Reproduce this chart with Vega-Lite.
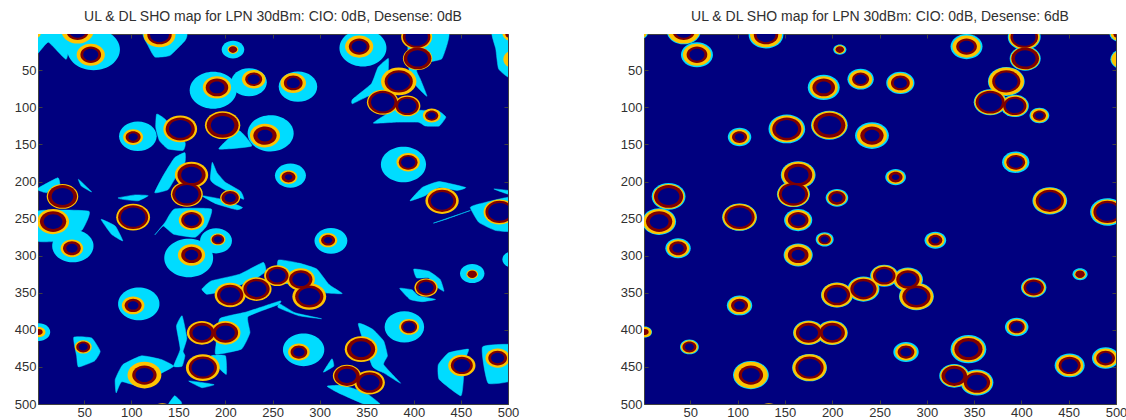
{"$schema":"https://vega.github.io/schema/vega-lite/v6.json","padding":{"left":13,"top":9,"right":0,"bottom":0},"background":"#ffffff","bounds":"flush","spacing":136,
"config":{"view":{"fill":"#00007f","stroke":"#404040"},"axis":{"grid":false,"domain":false,"labelFont":"Liberation Sans","labelFontSize":13,"labelColor":"#303030","tickColor":"#404040","tickSize":-4,"title":null,"labelPadding":6,"values":[50,100,150,200,250,300,350,400,450,500],"zindex":1,"labelFlush":false,"labelOverlap":false},"title":{"font":"Liberation Sans","fontSize":14,"fontWeight":"normal","color":"#303030","offset":10}},
"datasets":{
"cells":[
{"x":-3,"y":0,"yellow":7,"red":0,"navy":0,"c6":8},
{"x":43,"y":-3,"yellow":17,"red":12,"navy":9,"c6":18},
{"x":57,"y":29,"yellow":15,"red":11,"navy":8,"c6":17},
{"x":130,"y":2,"yellow":17,"red":13,"navy":10,"c6":18.5},
{"x":208,"y":22,"yellow":5.7,"red":4.5,"navy":0,"c6":7},
{"x":191,"y":73,"yellow":15,"red":12,"navy":8,"c6":17},
{"x":230,"y":62,"yellow":12.5,"red":9,"navy":6.5,"c6":14},
{"x":272,"y":67,"yellow":13.6,"red":10,"navy":7,"c6":15},
{"x":102,"y":140,"yellow":10.6,"red":8,"navy":5,"c6":12.5},
{"x":152,"y":129,"yellow":18,"red":15.5,"navy":12,"c6":19.5},
{"x":197,"y":124,"yellow":18.8,"red":17,"navy":12.5,"c6":19.5},
{"x":242,"y":138,"yellow":16,"red":12.4,"navy":8,"c6":18},
{"x":267,"y":194,"yellow":9.4,"red":7.4,"navy":4,"c6":11},
{"x":394,"y":174,"yellow":12.4,"red":10,"navy":7.5,"c6":14.5},
{"x":342,"y":18,"yellow":15,"red":11,"navy":8,"c6":17},
{"x":403,"y":5,"yellow":16.5,"red":14.7,"navy":12,"c6":17.5},
{"x":404,"y":34,"yellow":15.6,"red":14.7,"navy":11,"c6":16.5},
{"x":384,"y":65,"yellow":18.8,"red":15,"navy":12,"c6":19.5},
{"x":367,"y":93,"yellow":16.8,"red":15.4,"navy":12.4,"c6":17.5},
{"x":393,"y":98,"yellow":14,"red":12.4,"navy":9.6,"c6":15},
{"x":419,"y":111,"yellow":9.4,"red":7,"navy":4.6,"c6":10.5},
{"x":508,"y":35,"yellow":13,"red":0,"navy":0,"c6":14},
{"x":505,"y":0,"yellow":11,"red":8,"navy":0,"c6":12},
{"x":430,"y":226,"yellow":17.7,"red":15,"navy":12,"c6":18.5},
{"x":491,"y":241,"yellow":17,"red":15,"navy":12,"c6":18.5},
{"x":309,"y":279,"yellow":9.7,"red":7.4,"navy":4.4,"c6":11.5},
{"x":462,"y":325,"yellow":6.2,"red":5,"navy":0,"c6":8},
{"x":413,"y":343,"yellow":12.4,"red":10.8,"navy":8,"c6":13.5},
{"x":395,"y":396,"yellow":10.6,"red":8.5,"navy":6.4,"c6":12.5},
{"x":344,"y":426,"yellow":17.4,"red":15,"navy":10.6,"c6":19},
{"x":329,"y":462,"yellow":15,"red":13.6,"navy":9.7,"c6":16},
{"x":353,"y":471,"yellow":16.3,"red":14,"navy":10.6,"c6":17.5},
{"x":451,"y":448,"yellow":14.5,"red":11.7,"navy":8.8,"c6":16},
{"x":489,"y":438,"yellow":13,"red":10,"navy":7,"c6":14.5},
{"x":278,"y":430,"yellow":11.5,"red":8.9,"navy":6,"c6":13.5},
{"x":205,"y":353,"yellow":16.5,"red":14,"navy":10.6,"c6":17},
{"x":233,"y":345,"yellow":16,"red":14,"navy":10.6,"c6":17},
{"x":255,"y":327,"yellow":14,"red":12,"navy":9,"c6":15},
{"x":280,"y":332,"yellow":15,"red":12.4,"navy":9,"c6":16},
{"x":289,"y":355,"yellow":18,"red":15,"navy":11.5,"c6":18.5},
{"x":102,"y":367,"yellow":12,"red":9,"navy":5.7,"c6":13.5},
{"x":49,"y":423,"yellow":9,"red":7.4,"navy":4.8,"c6":10},
{"x":2,"y":403,"yellow":7,"red":4,"navy":0,"c6":7.5},
{"x":114,"y":461,"yellow":18,"red":13,"navy":9.5,"c6":19},
{"x":176,"y":451,"yellow":18,"red":15,"navy":12,"c6":18.5},
{"x":175,"y":404,"yellow":16,"red":13.5,"navy":10,"c6":16.5},
{"x":200,"y":404,"yellow":16,"red":13.5,"navy":10,"c6":16.5},
{"x":27,"y":220,"yellow":16.8,"red":15.5,"navy":11.5,"c6":18},
{"x":17,"y":254,"yellow":17,"red":14,"navy":10,"c6":18},
{"x":37,"y":290,"yellow":12,"red":9.4,"navy":6,"c6":13.5},
{"x":102,"y":248,"yellow":18,"red":16,"navy":13,"c6":18.5},
{"x":164,"y":252,"yellow":13.6,"red":11,"navy":8,"c6":15},
{"x":164,"y":191,"yellow":17.7,"red":15,"navy":11,"c6":18.5},
{"x":159,"y":217,"yellow":17,"red":15.5,"navy":12.4,"c6":17.5},
{"x":205,"y":222,"yellow":10.6,"red":9.2,"navy":6,"c6":12},
{"x":164,"y":299,"yellow":14.5,"red":11,"navy":7,"c6":15.5},
{"x":192,"y":278,"yellow":8,"red":6.6,"navy":4.4,"c6":9.5},
{"x":133,"y":512,"yellow":13,"red":0,"navy":0,"c6":0}
],
"blobs":[
{"x":60,"y":22,"r":28},{"x":208,"y":22,"r":12},{"x":187,"y":77,"r":25},{"x":225,"y":66,"r":19},{"x":277,"y":72,"r":20.5},{"x":107,"y":139,"r":20},{"x":248,"y":135,"r":24.5},{"x":269,"y":192,"r":16.5},{"x":389,"y":177,"r":24},{"x":346,"y":20,"r":25},{"x":312,"y":280,"r":17.5},{"x":462,"y":324,"r":13},{"x":505,"y":305,"r":11},{"x":390,"y":396,"r":21},{"x":283,"y":427,"r":22},{"x":108,"y":365,"r":22},{"x":2,"y":403,"r":12},{"x":38,"y":287,"r":22},{"x":161,"y":303,"r":26},{"x":190,"y":280,"r":17}
],
"wedges":[
{"w":1,"i":0,"x":0,"y":28},{"w":1,"i":1,"x":12,"y":12},{"w":1,"i":2,"x":31,"y":35},{"w":1,"i":3,"x":35,"y":0},{"w":1,"i":4,"x":0,"y":0},
{"w":2,"i":0,"x":125,"y":32},{"w":2,"i":1,"x":141,"y":30},{"w":2,"i":2,"x":157,"y":10},{"w":2,"i":3,"x":158,"y":0},{"w":2,"i":4,"x":113,"y":0},{"w":2,"i":5,"x":118,"y":17},
{"w":3,"i":0,"x":127,"y":109},{"w":3,"i":1,"x":136,"y":116},{"w":3,"i":2,"x":157,"y":147},{"w":3,"i":3,"x":155,"y":158},{"w":3,"i":4,"x":139,"y":156},{"w":3,"i":5,"x":130,"y":145},{"w":3,"i":6,"x":126,"y":127},
{"w":4,"i":0,"x":193,"y":156},{"w":4,"i":1,"x":214,"y":131},{"w":4,"i":2,"x":228,"y":152},
{"w":5,"i":0,"x":373,"y":34},{"w":5,"i":1,"x":362,"y":46},{"w":5,"i":2,"x":355,"y":68},{"w":5,"i":3,"x":335,"y":89},{"w":5,"i":4,"x":335,"y":95},{"w":5,"i":5,"x":354,"y":84},{"w":5,"i":6,"x":380,"y":89},{"w":5,"i":7,"x":373,"y":57},
{"w":6,"i":0,"x":403,"y":50},{"w":6,"i":1,"x":416,"y":39},{"w":6,"i":2,"x":430,"y":34},{"w":6,"i":3,"x":437,"y":0},{"w":6,"i":4,"x":395,"y":0},{"w":6,"i":5,"x":395,"y":50},{"w":6,"i":6,"x":402,"y":70},{"w":6,"i":7,"x":414,"y":85},{"w":6,"i":8,"x":407,"y":62},
{"w":7,"i":0,"x":357,"y":121},{"w":7,"i":1,"x":380,"y":103},{"w":7,"i":2,"x":409,"y":104},{"w":7,"i":3,"x":425,"y":104},{"w":7,"i":4,"x":434,"y":113},{"w":7,"i":5,"x":427,"y":125},{"w":7,"i":6,"x":412,"y":125},{"w":7,"i":7,"x":405,"y":120},{"w":7,"i":8,"x":380,"y":120},
{"w":8,"i":0,"x":483,"y":0},{"w":8,"i":1,"x":487,"y":21},{"w":8,"i":2,"x":490,"y":48},{"w":8,"i":3,"x":502,"y":59},{"w":8,"i":4,"x":502,"y":0},
{"w":9,"i":0,"x":396,"y":226},{"w":9,"i":1,"x":409,"y":208},{"w":9,"i":2,"x":427,"y":200},{"w":9,"i":3,"x":455,"y":208},{"w":9,"i":4,"x":446,"y":212},{"w":9,"i":5,"x":427,"y":208},{"w":9,"i":6,"x":412,"y":219},
{"w":10,"i":0,"x":421,"y":256},{"w":10,"i":1,"x":460,"y":239},{"w":10,"i":2,"x":436,"y":250},
{"w":11,"i":0,"x":460,"y":235},{"w":11,"i":1,"x":469,"y":255},{"w":11,"i":2,"x":487,"y":266},{"w":11,"i":3,"x":510,"y":266},{"w":11,"i":4,"x":510,"y":220},{"w":11,"i":5,"x":470,"y":230},
{"w":12,"i":0,"x":485,"y":210},{"w":12,"i":1,"x":500,"y":212},{"w":12,"i":2,"x":500,"y":217},
{"w":13,"i":0,"x":400,"y":318},{"w":13,"i":1,"x":416,"y":321},{"w":13,"i":2,"x":428,"y":332},{"w":13,"i":3,"x":432,"y":348},{"w":13,"i":4,"x":423,"y":341},{"w":13,"i":5,"x":416,"y":330},{"w":13,"i":6,"x":403,"y":330},
{"w":14,"i":0,"x":385,"y":344},{"w":14,"i":1,"x":398,"y":346},{"w":14,"i":2,"x":405,"y":354},{"w":14,"i":3,"x":423,"y":359},{"w":14,"i":4,"x":409,"y":362},{"w":14,"i":5,"x":396,"y":359},
{"w":15,"i":0,"x":341,"y":392},{"w":15,"i":1,"x":356,"y":399},{"w":15,"i":2,"x":368,"y":415},{"w":15,"i":3,"x":372,"y":435},{"w":15,"i":4,"x":368,"y":447},{"w":15,"i":5,"x":386,"y":472},{"w":15,"i":6,"x":368,"y":458},{"w":15,"i":7,"x":356,"y":449},
{"w":16,"i":0,"x":304,"y":457},{"w":16,"i":1,"x":313,"y":439},{"w":16,"i":2,"x":315,"y":449},
{"w":17,"i":0,"x":308,"y":476},{"w":17,"i":1,"x":320,"y":485},{"w":17,"i":2,"x":349,"y":501},{"w":17,"i":3,"x":365,"y":501},{"w":17,"i":4,"x":349,"y":485},{"w":17,"i":5,"x":325,"y":475},
{"w":18,"i":0,"x":458,"y":426},{"w":18,"i":1,"x":437,"y":431},{"w":18,"i":2,"x":426,"y":447},{"w":18,"i":3,"x":427,"y":467},{"w":18,"i":4,"x":450,"y":489},{"w":18,"i":5,"x":453,"y":462},{"w":18,"i":6,"x":455,"y":438},
{"w":19,"i":0,"x":473,"y":423},{"w":19,"i":1,"x":510,"y":421},{"w":19,"i":2,"x":510,"y":466},{"w":19,"i":3,"x":479,"y":472},
{"w":20,"i":0,"x":258,"y":365},{"w":20,"i":1,"x":274,"y":377},{"w":20,"i":2,"x":302,"y":385},{"w":20,"i":3,"x":278,"y":381},{"w":20,"i":4,"x":256,"y":370},
{"w":21,"i":0,"x":175,"y":345},{"w":21,"i":1,"x":185,"y":334},{"w":21,"i":2,"x":215,"y":325},{"w":21,"i":3,"x":240,"y":309},{"w":21,"i":4,"x":243,"y":321},{"w":21,"i":5,"x":233,"y":330},{"w":21,"i":6,"x":215,"y":340},{"w":21,"i":7,"x":190,"y":350},{"w":21,"i":8,"x":180,"y":352},
{"w":22,"i":0,"x":256,"y":306},{"w":22,"i":1,"x":278,"y":310},{"w":22,"i":2,"x":297,"y":318},{"w":22,"i":3,"x":310,"y":339},{"w":22,"i":4,"x":324,"y":351},{"w":22,"i":5,"x":305,"y":350},{"w":22,"i":6,"x":280,"y":340},{"w":22,"i":7,"x":256,"y":335},
{"w":23,"i":0,"x":39,"y":410},{"w":23,"i":1,"x":58,"y":411},{"w":23,"i":2,"x":67,"y":429},{"w":23,"i":3,"x":61,"y":442},{"w":23,"i":4,"x":44,"y":450},{"w":23,"i":5,"x":42,"y":435},
{"w":24,"i":0,"x":84,"y":485},{"w":24,"i":1,"x":83,"y":467},{"w":24,"i":2,"x":91,"y":447},{"w":24,"i":3,"x":111,"y":435},{"w":24,"i":4,"x":132,"y":440},{"w":24,"i":5,"x":145,"y":449},{"w":24,"i":6,"x":130,"y":460},{"w":24,"i":7,"x":115,"y":478},{"w":24,"i":8,"x":90,"y":470},
{"w":25,"i":0,"x":194,"y":385},{"w":25,"i":1,"x":222,"y":376},{"w":25,"i":2,"x":258,"y":361},{"w":25,"i":3,"x":256,"y":366},{"w":25,"i":4,"x":224,"y":382},{"w":25,"i":5,"x":226,"y":404},{"w":25,"i":6,"x":217,"y":426},{"w":25,"i":7,"x":190,"y":433},{"w":25,"i":8,"x":190,"y":420},
{"w":26,"i":0,"x":185,"y":435},{"w":26,"i":1,"x":200,"y":435},{"w":26,"i":2,"x":201,"y":460},{"w":26,"i":3,"x":191,"y":449},
{"w":27,"i":0,"x":148,"y":395},{"w":27,"i":1,"x":154,"y":381},{"w":27,"i":2,"x":159,"y":411},{"w":27,"i":3,"x":155,"y":429},{"w":27,"i":4,"x":157,"y":435},{"w":27,"i":5,"x":154,"y":449},{"w":27,"i":6,"x":145,"y":449},{"w":27,"i":7,"x":152,"y":426},
{"w":28,"i":0,"x":161,"y":469},{"w":28,"i":1,"x":175,"y":471},{"w":28,"i":2,"x":188,"y":474},{"w":28,"i":3,"x":175,"y":478},
{"w":29,"i":0,"x":139,"y":502},{"w":29,"i":1,"x":146,"y":489},{"w":29,"i":2,"x":153,"y":497},{"w":29,"i":3,"x":153,"y":502},
{"w":30,"i":0,"x":0,"y":210},{"w":30,"i":1,"x":22,"y":195},{"w":30,"i":2,"x":24,"y":206},{"w":30,"i":3,"x":10,"y":215},
{"w":31,"i":0,"x":44,"y":197},{"w":31,"i":1,"x":58,"y":214},{"w":31,"i":2,"x":47,"y":206},
{"w":32,"i":0,"x":0,"y":240},{"w":32,"i":1,"x":55,"y":240},{"w":32,"i":2,"x":48,"y":265},{"w":32,"i":3,"x":35,"y":272},{"w":32,"i":4,"x":25,"y":280},{"w":32,"i":5,"x":0,"y":280},
{"w":33,"i":0,"x":68,"y":251},{"w":33,"i":1,"x":83,"y":260},{"w":33,"i":2,"x":91,"y":280},{"w":33,"i":3,"x":79,"y":271},
{"w":34,"i":0,"x":125,"y":272},{"w":34,"i":1,"x":136,"y":255},{"w":34,"i":2,"x":146,"y":237},{"w":34,"i":3,"x":185,"y":237},{"w":34,"i":4,"x":180,"y":260},{"w":34,"i":5,"x":168,"y":275},{"w":34,"i":6,"x":145,"y":271},{"w":34,"i":7,"x":134,"y":260},
{"w":35,"i":0,"x":86,"y":222},{"w":35,"i":1,"x":104,"y":218},{"w":35,"i":2,"x":118,"y":219},{"w":35,"i":3,"x":107,"y":226},{"w":35,"i":4,"x":91,"y":224},
{"w":36,"i":0,"x":125,"y":215},{"w":36,"i":1,"x":134,"y":192},{"w":36,"i":2,"x":146,"y":168},{"w":36,"i":3,"x":157,"y":161},{"w":36,"i":4,"x":157,"y":174},{"w":36,"i":5,"x":146,"y":197},{"w":36,"i":6,"x":139,"y":211},
{"w":37,"i":0,"x":186,"y":174},{"w":37,"i":1,"x":191,"y":188},{"w":37,"i":2,"x":200,"y":201},{"w":37,"i":3,"x":216,"y":213},{"w":37,"i":4,"x":219,"y":224},{"w":37,"i":5,"x":189,"y":204},{"w":37,"i":6,"x":184,"y":197},
{"w":38,"i":0,"x":175,"y":219},{"w":38,"i":1,"x":200,"y":225},{"w":38,"i":2,"x":218,"y":235},{"w":38,"i":3,"x":212,"y":238},{"w":38,"i":4,"x":190,"y":230}
]
},
"hconcat":[
{"width":470,"height":370,"title":"UL & DL SHO map for LPN 30dBm: CIO: 0dB, Desense: 0dB",
"encoding":{"x":{"field":"x","type":"quantitative","scale":{"domain":[1,500],"nice":false,"zero":false}},"y":{"field":"y","type":"quantitative","scale":{"domain":[1,500],"nice":false,"zero":false,"reverse":true}}},
"layer":[
{"data":{"name":"wedges"},"mark":{"type":"line","interpolate":"cardinal-closed","tension":0.6,"fill":"#00dcff","stroke":"#00dcff","strokeWidth":0.5,"clip":true},"encoding":{"detail":{"field":"w"},"order":{"field":"i","type":"quantitative"},"x":{"field":"x","type":"quantitative","axis":{"orient":"bottom"}},"y":{"field":"y","type":"quantitative","axis":{"orient":"left"}}}},
{"data":{"name":"blobs"},"mark":{"type":"point","filled":true,"opacity":1,"clip":true,"shape":"M-1,0A1,0.787,0,1,1,1,0A1,0.787,0,1,1,-1,0Z","color":"#00dcff"},"encoding":{"x":{"field":"x","type":"quantitative","axis":{"orient":"top","labels":false}},"y":{"field":"y","type":"quantitative","axis":{"orient":"right","labels":false}},"size":{"field":"r","type":"quantitative","legend":null,"scale":{"type":"pow","exponent":2,"domain":[0,100],"range":[0,35344]}}}},
{"data":{"name":"cells"},"mark":{"type":"point","filled":true,"opacity":1,"clip":true,"shape":"M-1,0A1,0.787,0,1,1,1,0A1,0.787,0,1,1,-1,0Z","color":"#ffc400"},"encoding":{"x":{"field":"x","type":"quantitative","axis":null},"y":{"field":"y","type":"quantitative","axis":null},"size":{"field":"yellow","type":"quantitative","legend":null,"scale":{"type":"pow","exponent":2,"domain":[0,100],"range":[0,35344]}}}},
{"data":{"name":"cells"},"mark":{"type":"point","filled":true,"opacity":1,"clip":true,"shape":"M-1,0A1,0.787,0,1,1,1,0A1,0.787,0,1,1,-1,0Z","color":"#7f0000"},"encoding":{"x":{"field":"x","type":"quantitative","axis":null},"y":{"field":"y","type":"quantitative","axis":null},"size":{"field":"red","type":"quantitative","legend":null,"scale":{"type":"pow","exponent":2,"domain":[0,100],"range":[0,35344]}}}},
{"data":{"name":"cells"},"mark":{"type":"point","filled":true,"opacity":1,"clip":true,"shape":"M-1,0A1,0.787,0,1,1,1,0A1,0.787,0,1,1,-1,0Z","color":"#00007f"},"encoding":{"x":{"field":"x","type":"quantitative","axis":null},"y":{"field":"y","type":"quantitative","axis":null},"size":{"field":"navy","type":"quantitative","legend":null,"scale":{"type":"pow","exponent":2,"domain":[0,100],"range":[0,35344]}}}}
],"resolve":{"axis":{"x":"independent","y":"independent"}}},
{"width":472,"height":370,"title":"UL & DL SHO map for LPN 30dBm: CIO: 0dB, Desense: 6dB",
"data":{"name":"cells"},
"encoding":{"x":{"field":"x","type":"quantitative","scale":{"domain":[1,500],"nice":false,"zero":false}},"y":{"field":"y","type":"quantitative","scale":{"domain":[1,500],"nice":false,"zero":false,"reverse":true}}},
"layer":[
{"mark":{"type":"point","filled":true,"opacity":1,"clip":true,"shape":"M-1,0A1,0.787,0,1,1,1,0A1,0.787,0,1,1,-1,0Z","color":"#00dcff"},"encoding":{"x":{"field":"x","type":"quantitative","axis":{"orient":"bottom"}},"y":{"field":"y","type":"quantitative","axis":{"orient":"left"}},"size":{"field":"c6","type":"quantitative","legend":null,"scale":{"type":"pow","exponent":2,"domain":[0,100],"range":[0,35344]}}}},
{"mark":{"type":"point","filled":true,"opacity":1,"clip":true,"shape":"M-1,0A1,0.787,0,1,1,1,0A1,0.787,0,1,1,-1,0Z","color":"#ffc400"},"encoding":{"x":{"field":"x","type":"quantitative","axis":{"orient":"top","labels":false}},"y":{"field":"y","type":"quantitative","axis":{"orient":"right","labels":false}},"size":{"field":"yellow","type":"quantitative","legend":null,"scale":{"type":"pow","exponent":2,"domain":[0,100],"range":[0,35344]}}}},
{"mark":{"type":"point","filled":true,"opacity":1,"clip":true,"shape":"M-1,0A1,0.787,0,1,1,1,0A1,0.787,0,1,1,-1,0Z","color":"#7f0000"},"encoding":{"x":{"field":"x","type":"quantitative","axis":null},"y":{"field":"y","type":"quantitative","axis":null},"size":{"field":"red","type":"quantitative","legend":null,"scale":{"type":"pow","exponent":2,"domain":[0,100],"range":[0,35344]}}}},
{"mark":{"type":"point","filled":true,"opacity":1,"clip":true,"shape":"M-1,0A1,0.787,0,1,1,1,0A1,0.787,0,1,1,-1,0Z","color":"#00007f"},"encoding":{"x":{"field":"x","type":"quantitative","axis":null},"y":{"field":"y","type":"quantitative","axis":null},"size":{"field":"navy","type":"quantitative","legend":null,"scale":{"type":"pow","exponent":2,"domain":[0,100],"range":[0,35344]}}}}
],"resolve":{"axis":{"x":"independent","y":"independent"}}}
]}
